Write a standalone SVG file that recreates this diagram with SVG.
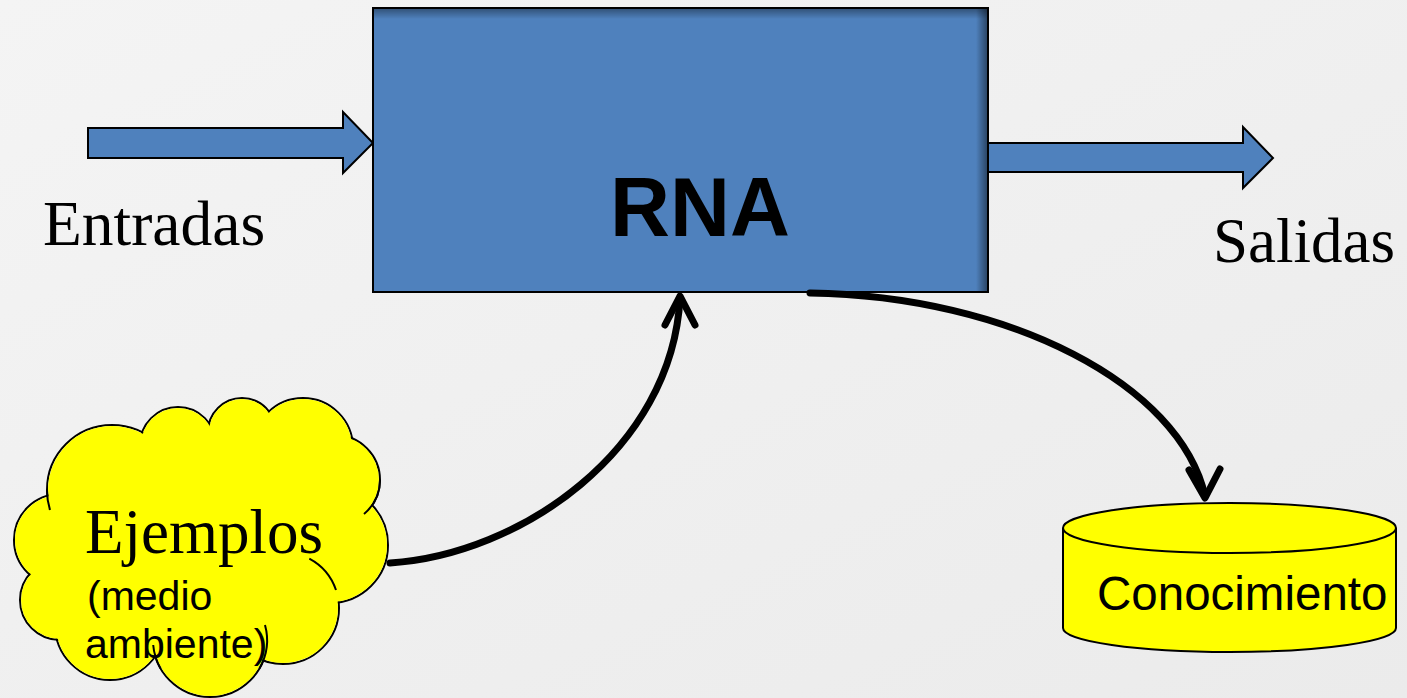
<svg xmlns="http://www.w3.org/2000/svg" width="1407" height="698" viewBox="0 0 1407 698">
<defs>
<linearGradient id="bg" x1="0" y1="0" x2="1" y2="1">
<stop offset="0" stop-color="#f4f4f4"/>
<stop offset="1" stop-color="#ebebeb"/>
</linearGradient>
<linearGradient id="shR" x1="0" y1="0" x2="1" y2="0">
<stop offset="0" stop-color="#000" stop-opacity="0"/>
<stop offset="1" stop-color="#000" stop-opacity="0.45"/>
</linearGradient>
<linearGradient id="shT" x1="0" y1="0" x2="0" y2="1">
<stop offset="0" stop-color="#000" stop-opacity="0.35"/>
<stop offset="1" stop-color="#000" stop-opacity="0"/>
</linearGradient>
<style>
.blue{fill:#4f81bd;stroke:#000;stroke-width:2}
.yel{fill:#ffff00;stroke:#000;stroke-width:2}
.conn{fill:none;stroke:#000;stroke-width:7;stroke-linecap:round;stroke-linejoin:round}
.serif{font-family:"Liberation Serif","Times New Roman",serif;fill:#000}
.sans{font-family:"Liberation Sans",Arial,sans-serif;fill:#000}
.cs{fill:none;stroke:#000;stroke-width:2}
.cf{fill:#ffff00;stroke:none}
.arc{fill:none;stroke:#000;stroke-width:2}
</style>
</defs>
<rect x="0" y="0" width="1407" height="698" fill="url(#bg)"/>

<g id="entradas-arrow">
<polygon class="blue" points="88,128 343,128 343,112 373,143 343,173 343,158 88,158"/>
</g>
<g id="salidas-arrow">
<polygon class="blue" points="988,143 1243,143 1243,127 1273,158 1243,188 1243,172 988,172"/>
</g>

<g id="rna">
<rect class="blue" x="373" y="8" width="615" height="284" stroke-width="2.5"/>
<rect x="374" y="9" width="613" height="10" fill="url(#shT)"/>
<rect x="976" y="9" width="11" height="282" fill="url(#shR)"/>
<text class="sans" x="700" y="236" font-size="83" font-weight="bold" text-anchor="middle">RNA</text>
</g>

<g id="label-entradas">
<text class="serif" x="43" y="245" font-size="63.5">Entradas</text>
</g>
<g id="label-salidas">
<text class="serif" x="1213" y="262" font-size="63">Salidas</text>
</g>

<g id="ejemplos">
<g>
<circle class="cs" cx="112" cy="490" r="65"/>
<circle class="cs" cx="178" cy="445" r="38"/>
<circle class="cs" cx="242" cy="432" r="34"/>
<circle class="cs" cx="303" cy="448" r="50"/>
<circle class="cs" cx="335" cy="480" r="45"/>
<circle class="cs" cx="330" cy="545" r="58"/>
<circle class="cs" cx="283" cy="608" r="56"/>
<circle class="cs" cx="210" cy="640" r="57"/>
<circle class="cs" cx="110" cy="625" r="55"/>
<circle class="cs" cx="60" cy="600" r="40"/>
<circle class="cs" cx="60" cy="540" r="46"/>
</g>
<g>
<circle class="cf" cx="112" cy="490" r="64"/>
<circle class="cf" cx="178" cy="445" r="37"/>
<circle class="cf" cx="242" cy="432" r="33"/>
<circle class="cf" cx="303" cy="448" r="49"/>
<circle class="cf" cx="335" cy="480" r="44"/>
<circle class="cf" cx="330" cy="545" r="57"/>
<circle class="cf" cx="283" cy="608" r="55"/>
<circle class="cf" cx="210" cy="640" r="56"/>
<circle class="cf" cx="110" cy="625" r="54"/>
<circle class="cf" cx="60" cy="600" r="39"/>
<circle class="cf" cx="60" cy="540" r="45"/>
<circle class="cf" cx="210" cy="535" r="105"/>
<circle class="cf" cx="120" cy="570" r="45"/>
</g>
<path class="arc" d="M309.3,558.6 A56,56 0 0 1 336,590"/>
<path class="arc" d="M265,625 A57,57 0 0 1 259.4,668.5"/>
<path class="arc" d="M153.2,645 A57,57 0 0 0 160.6,668.5"/>
<path class="arc" d="M380,480 A45,45 0 0 1 364,514"/>
<path class="arc" d="M47,490 A65,65 0 0 0 50,510"/>
<text class="serif" x="85" y="553" font-size="63">Ejemplos</text>
<text class="sans" x="87" y="610" font-size="41">(medio</text>
<text class="sans" x="85" y="658" font-size="41">ambiente)</text>
</g>

<g id="conocimiento">
<path class="yel" d="M1063,528 A166.5,25 0 0 1 1396,528 L1396,628 A166.5,24 0 0 1 1063,628 Z"/>
<path class="arc" d="M1063,528 A166.5,25 0 0 0 1396,528"/>
<text class="sans" x="1097" y="610" font-size="47.5">Conocimiento</text>
</g>

<g id="connectors">
<path class="conn" d="M390,563 C520,555 672,450 680,298"/>
<polyline class="conn" points="665,325 680,296 695,325"/>
<path class="conn" d="M810,293 C1010,296 1180,385 1205,496"/>
<polyline class="conn" points="1189,470 1205,498 1220,469"/>
</g>
</svg>
